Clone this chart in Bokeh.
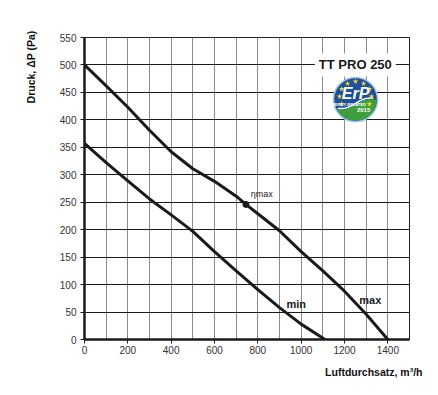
from bokeh.plotting import figure
from bokeh.models import FixedTicker, Title, Range1d, Label
from bokeh.embed import file_html
from bokeh.resources import INLINE
from bokeh.core.properties import value
import numpy as np

# ---- data ----
max_flow = [0, 100, 200, 300, 400, 500, 600, 700, 745, 800, 900, 1000, 1100, 1200, 1300, 1400]
max_press = [500, 462, 423, 381, 342, 311, 288, 261, 246, 229, 198, 160, 125, 88, 46, 0]
min_flow = [0, 100, 200, 300, 400, 500, 600, 700, 800, 900, 1000, 1110]
min_press = [357, 322, 289, 256, 227, 197, 160, 125, 91, 58, 28, 0]
eta_flow = [745]
eta_press = [246]
x_ticks = [0, 200, 400, 600, 800, 1000, 1200, 1400]
x_grid = [100, 200, 300, 400, 500, 600, 700, 800, 900, 1000, 1100, 1200, 1300, 1400]
y_ticks = [0, 50, 100, 150, 200, 250, 300, 350, 400, 450, 500, 550]
curve_labels = ["min", "max"]
curve_label_x = [977, 1319]
curve_label_y = [65, 72]
eta_label = ["\u03b7max"]
eta_label_x = [767]
eta_label_y = [265]
model_name = "TT PRO 250"
model_x, model_y = 1250, 500
logo_x, logo_y = 1251, 437

X0, X1, Y0, Y1 = 0, 1500, 0, 550
W, H = 430, 390
ML, MR, MT, MB = 84, 21, 37, 51

p = figure(width=W, height=H, x_range=Range1d(X0, X1), y_range=Range1d(Y0, Y1),
           output_backend="svg", toolbar_location=None,
           min_border_left=ML, min_border_right=MR, min_border_top=MT, min_border_bottom=MB)
p.title.visible = False
p.background_fill_color = "white"
p.outline_line_color = "#222222"
p.outline_line_width = 1

TICK_FONT = "Liberation Sans"
for ax in (p.xaxis[0], p.yaxis[0]):
    ax.axis_line_width = 2.5
    ax.axis_line_color = "#1a1a1a"
    ax.major_tick_out = 4
    ax.major_tick_in = 0
    ax.major_tick_line_color = "#1a1a1a"
    ax.minor_tick_out = 0
    ax.minor_tick_in = 0
    ax.major_label_text_font = TICK_FONT
    ax.major_label_text_font_size = "10px"
    ax.major_label_text_color = "#333333"
p.xaxis.ticker = FixedTicker(ticks=x_ticks)
p.yaxis.ticker = FixedTicker(ticks=y_ticks)
p.xaxis.major_label_standoff = 2
p.yaxis.major_label_standoff = 4

p.xgrid.ticker = FixedTicker(ticks=x_grid)
p.xgrid.grid_line_color = "#8a8a8a"
p.xgrid.grid_line_width = 1
p.ygrid.ticker = FixedTicker(ticks=y_ticks[1:])
p.ygrid.grid_line_color = "#1a1a1a"
p.ygrid.grid_line_width = 1

# axis titles
p.add_layout(Title(text="Druck, \u0394P (Pa)", align="right", offset=-7, standoff=40,
                   text_font="Liberation Sans", text_font_size="10.5px",
                   text_font_style="bold", text_color="#111111"), "left")
p.add_layout(Title(text="Luftdurchsatz, m\u00b3/h", align="right", offset=-13, standoff=15,
                   text_font="Liberation Sans", text_font_size="10.5px",
                   text_font_style="bold", text_color="#111111"), "below")

# curves
p.line(max_flow, max_press, line_width=3, line_color="#1a1a1a", line_join="round")
p.line(min_flow, min_press, line_width=3, line_color="#1a1a1a", line_join="round")
p.scatter(eta_flow, eta_press, size=6, fill_color="#1a1a1a", line_color="#1a1a1a")

p.text(curve_label_x, curve_label_y, text=curve_labels, text_align="center", text_baseline="middle",
       text_font=value("Liberation Sans"), text_font_size="11px", text_font_style="bold",
       text_color="#1a1a1a")
p.text(eta_label_x, eta_label_y, text=eta_label, text_align="left", text_baseline="middle",
       text_font=value("Liberation Sans"), text_font_size="9px", text_color="#222222")

p.add_layout(Label(x=model_x, y=model_y, text=model_name, text_align="center",
                   text_baseline="middle", text_font="Liberation Sans", text_font_size="13px",
                   text_font_style="bold", text_color="#1a1a1a",
                   background_fill_color="white", padding=4))

# ---- ErP logo (decoration), offsets in pixels converted to data units ----
ux = (X1 - X0) / (W - ML - MR)
uy = (Y1 - Y0) / (H - MT - MB)
R = 21
def to_data(dx, dy):
    return logo_x + np.asarray(dx) * ux, logo_y + np.asarray(dy) * uy

cx, cy = to_data([0], [0])
p.scatter(cx, cy, size=2 * R + 2, fill_color="#1c4f9c", line_color="#9cc0e6", line_width=1.5)

# green lower region
xs = np.linspace(-R, R, 40)
wave = -5 + 0.22 * xs + 2.5 * np.sin(xs / R * np.pi)
inside = np.sqrt(np.maximum(R * R - xs * xs, 0))
top = np.clip(wave, -inside, inside)
ang = np.linspace(0, -np.pi, 60)
bx = R * np.cos(ang)
by = R * np.sin(ang)
px_ = np.concatenate([xs[::-1], bx[::-1]])
py_ = np.concatenate([top[::-1], by[::-1]])
gx, gy = to_data(px_, py_)
p.patch(gx, gy, fill_color="#3f9f3a", line_color=None)
lx, ly = to_data(xs[3:-3], (wave + 1.2)[3:-3])
p.line(lx, ly, line_color="white", line_width=1.5)

# stars
st_ang = np.deg2rad([0, 30, 60, 90, 120, 150, 180, 210, -30])
sx, sy = to_data(16 * np.cos(st_ang), 3 + 15 * np.sin(st_ang))
p.scatter(sx, sy, marker="star", size=6, fill_color="#f3d02c", line_color=None)

tx, ty = to_data([0], [6])
p.text(tx, ty, text=["ErP"], text_align="center", text_baseline="middle",
       text_font=value("Liberation Sans"), text_font_size="16px", text_font_style="bold italic",
       text_color="white")
ex, ey = to_data([-8], [-5])
p.text(ex, ey, text=["ENERGY-RELATED"], text_align="center", text_baseline="middle",
       text_font=value("Liberation Sans"), text_font_size="4px", text_font_style="bold",
       text_color="white")
yx, yy = to_data([8], [-10])
p.text(yx, yy, text=["2015"], text_align="center", text_baseline="middle",
       text_font=value("Liberation Sans"), text_font_size="6px", text_font_style="bold",
       text_color="white")

open("out.html", "w").write(file_html(p, INLINE))
